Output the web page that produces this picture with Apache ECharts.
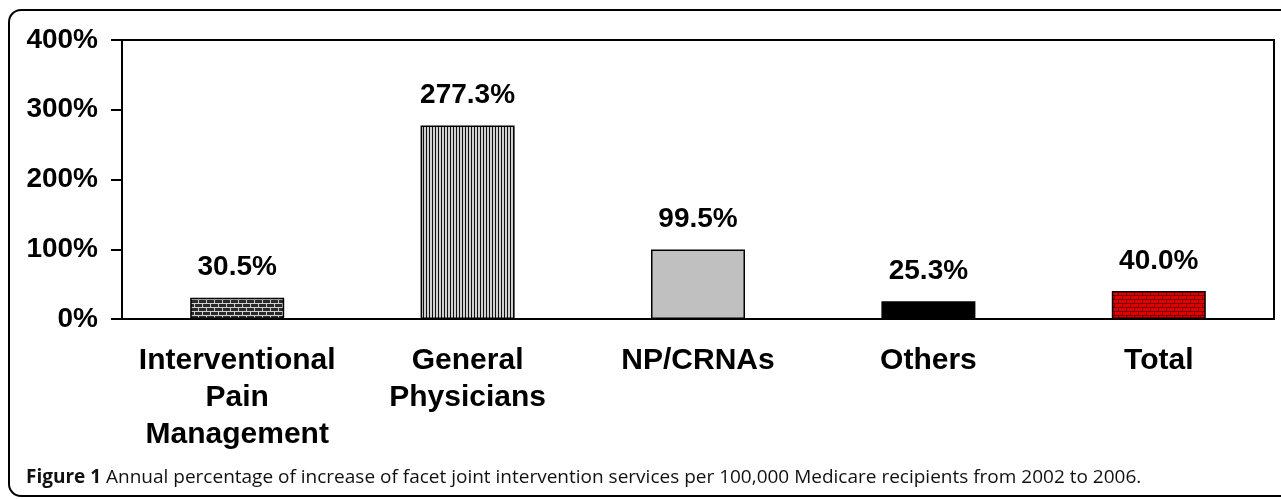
<!DOCTYPE html>
<html>
<head>
<meta charset="utf-8">
<script src="https://cdn.jsdelivr.net/npm/echarts@6/dist/echarts.min.js"></script>
<style>
  html, body { margin: 0; padding: 0; background: #fff; }
  #chart { width: 1281px; height: 499px; }
</style>
</head>
<body>
<div id="chart"></div>
<script>
const categories = ['Interventional\nPain\nManagement', 'General\nPhysicians', 'NP/CRNAs', 'Others', 'Total'];
const increases = [30.5, 277.3, 99.5, 25.3, 40.0];
const yTicks = [0, 100, 200, 300, 400];

// brick pattern: fill colour + mortar colour
function brick(fill, line) {
  const c = document.createElement('canvas');
  c.width = 8; c.height = 8;
  const ctx = c.getContext('2d');
  ctx.fillStyle = fill;
  ctx.fillRect(0, 0, 8, 8);
  ctx.fillStyle = line;
  ctx.fillRect(0, 3, 8, 1);
  ctx.fillRect(0, 7, 8, 1);
  ctx.fillRect(2, 0, 1, 3);
  ctx.fillRect(6, 4, 1, 3);
  return c;
}

function stripes() {
  const c = document.createElement('canvas');
  c.width = 3; c.height = 4;
  const ctx = c.getContext('2d');
  ctx.fillStyle = '#d0d0d0';
  ctx.fillRect(0, 0, 3, 4);
  ctx.fillStyle = '#111';
  ctx.fillRect(0, 0, 1, 4);
  return c;
}

const fills = [
  { image: brick('#2a2a2a', '#cfcfcf'), repeat: 'repeat' },
  { image: stripes(), repeat: 'repeat' },
  '#c0c0c0',
  '#000000',
  { image: brick('#e00000', '#7a0000'), repeat: 'repeat' }
];

const chart = echarts.init(document.getElementById('chart'));

const option = {
  animation: false,
  title: {
    left: 21,
    top: 463,
    text: '{b|Figure 1} Annual percentage of increase of facet joint intervention services per 100,000 Medicare recipients from 2002 to 2006.',
    textStyle: {
      fontFamily: 'Open Sans',
      fontSize: 19,
      fontWeight: 'normal',
      color: '#111',
      rich: {
        b: { fontFamily: 'Open Sans', fontSize: 19, fontWeight: 'bold', color: '#111' }
      }
    }
  },
  graphic: [{
    type: 'rect',
    shape: { x: 9, y: 10, width: 1300, height: 486, r: 12 },
    style: { fill: 'none', stroke: '#000', lineWidth: 2 },
    silent: true
  }],
  grid: {
    left: 122,
    right: 7,
    top: 40,
    bottom: 180,
    show: true,
    borderColor: '#000',
    borderWidth: 2
  },
  xAxis: {
    type: 'category',
    data: categories,
    axisLine: { lineStyle: { color: '#000', width: 2 } },
    axisTick: { length: 10, lineStyle: { color: '#000', width: 2 } },
    axisLabel: {
      interval: 0,
      margin: 23,
      color: '#000',
      fontFamily: 'Liberation Sans',
      fontWeight: 'bold',
      fontSize: 30,
      lineHeight: 37
    }
  },
  yAxis: {
    type: 'value',
    min: yTicks[0],
    max: yTicks[yTicks.length - 1],
    interval: 100,
    axisLine: { show: true, lineStyle: { color: '#000', width: 2 } },
    axisTick: { show: true, length: 11, lineStyle: { color: '#000', width: 2 } },
    splitLine: { show: false },
    axisLabel: {
      formatter: '{value}%',
      margin: 24,
      color: '#000',
      fontFamily: 'Liberation Sans',
      fontWeight: 'bold',
      fontSize: 28
    }
  },
  series: [{
    type: 'bar',
    barWidth: 94,
    data: increases.map((v, i) => ({
      value: v,
      itemStyle: { color: fills[i], borderColor: '#000', borderWidth: 1.5 }
    })),
    label: {
      show: true,
      position: 'top',
      distance: 16,
      formatter: p => p.value.toFixed(1) + '%',
      color: '#000',
      fontFamily: 'Liberation Sans',
      fontWeight: 'bold',
      fontSize: 28
    }
  }]
};

chart.setOption(option);
</script>
</body>
</html>
